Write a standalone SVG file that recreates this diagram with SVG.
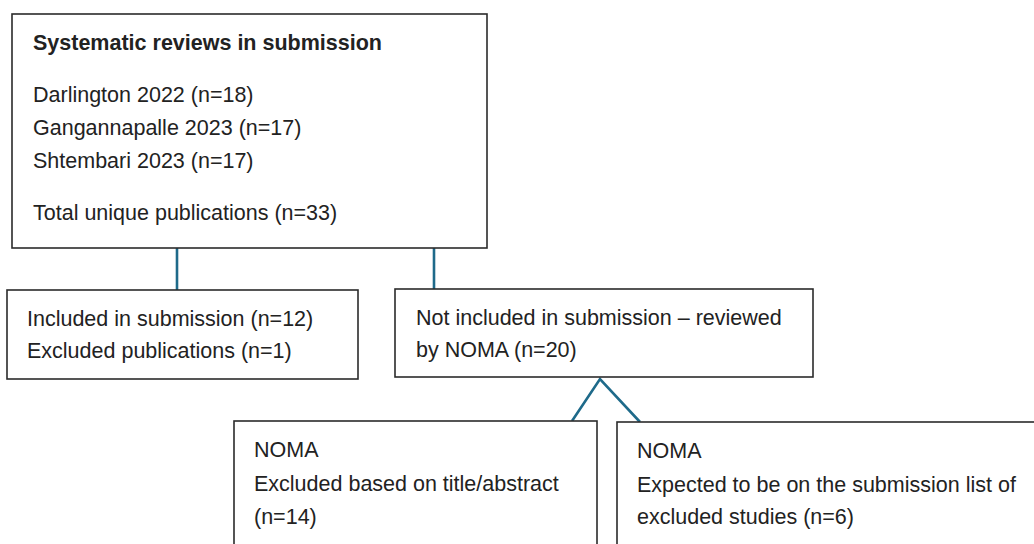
<svg xmlns="http://www.w3.org/2000/svg" width="1034" height="544" viewBox="0 0 1034 544">
  <style>
    .box { fill: #ffffff; stroke: #2b2b2b; stroke-width: 1.6; }
    .t { font-family: "Liberation Sans", Arial, sans-serif; font-size: 21.5px; fill: #222222; }
    .b { font-weight: bold; }
    .c { fill: none; stroke: #1e6a8a; stroke-width: 2.6; }
  </style>
  <rect width="1034" height="544" fill="#ffffff"/>
  <g id="connectors">
    <line class="c" x1="177" y1="248" x2="177" y2="290"/>
    <line class="c" x1="434" y1="248" x2="434" y2="289"/>
    <polyline class="c" points="572,421 600,379 640,422"/>
  </g>
  <g id="node-systematic">
    <rect class="box" x="12" y="14" width="475" height="234"/>
    <text class="t b" x="33" y="50">Systematic reviews in submission</text>
    <text class="t" x="33" y="102">Darlington 2022 (n=18)</text>
    <text class="t" x="33" y="135">Gangannapalle 2023 (n=17)</text>
    <text class="t" x="33" y="168">Shtembari 2023 (n=17)</text>
    <text class="t" x="33" y="220">Total unique publications (n=33)</text>
  </g>
  <g id="node-included">
    <rect class="box" x="7" y="290" width="351" height="89"/>
    <text class="t" x="27" y="326">Included in submission (n=12)</text>
    <text class="t" x="27" y="358">Excluded publications (n=1)</text>
  </g>
  <g id="node-not-included">
    <rect class="box" x="395" y="289" width="418" height="88"/>
    <text class="t" x="416" y="325">Not included in submission – reviewed</text>
    <text class="t" x="416" y="357">by NOMA (n=20)</text>
  </g>
  <g id="node-excluded-title">
    <rect class="box" x="234" y="421" width="363" height="140"/>
    <text class="t" x="254" y="457">NOMA</text>
    <text class="t" x="254" y="491">Excluded based on title/abstract</text>
    <text class="t" x="254" y="524">(n=14)</text>
  </g>
  <g id="node-expected">
    <rect class="box" x="617" y="422" width="430" height="140"/>
    <text class="t" x="637" y="458">NOMA</text>
    <text class="t" x="637" y="492">Expected to be on the submission list of</text>
    <text class="t" x="637" y="524">excluded studies (n=6)</text>
  </g>
</svg>
